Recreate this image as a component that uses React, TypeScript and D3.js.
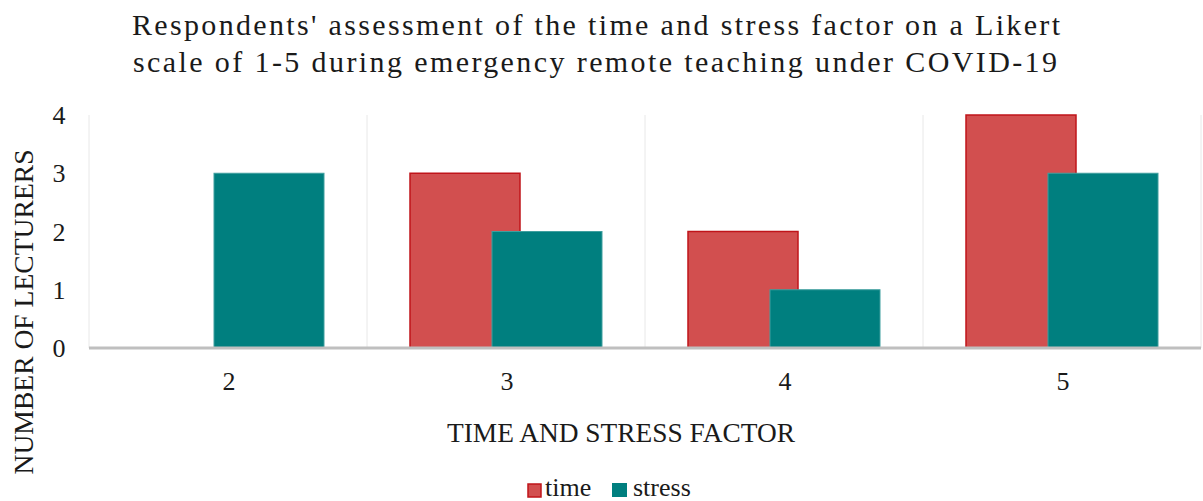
import * as d3 from "d3"

const categories = ["2", "3", "4", "5"]
const timeValues = [0, 3, 2, 4]
const stressValues = [3, 2, 1, 3]
const yTicks = [0, 1, 2, 3, 4]

const W = 1203
const H = 501
const margin = { left: 89, right: 2, top: 115, bottom: 153 }
const serif = { fontFamily: "'Liberation Serif', 'Times New Roman', serif" }

export default function App() {
  const innerW = W - margin.left - margin.right
  const innerH = H - margin.top - margin.bottom

  const x = d3.scaleBand().domain(categories).range([0, innerW])
  const y = d3.scaleLinear().domain([0, 4]).range([innerH, 0])

  // overlapping bar pair, like the office chart
  const barW = 110
  const offset = 82
  const groupW = barW + offset

  return (
    <svg width={W} height={H} style={{ position: "absolute", left: 0, top: 0, background: "#fff", ...serif }}>
      <g fill="#1a1a1a">
        <text x={132} y={35} fontSize={30} textLength={928} lengthAdjust="spacing">
          Respondents' assessment of the time and stress factor on a Likert
        </text>
        <text x={133} y={72} fontSize={30} textLength={924} lengthAdjust="spacing">
          scale of 1-5 during emergency remote teaching under COVID-19
        </text>
      </g>

      <g transform={`translate(${margin.left},${margin.top})`}>
        {categories.map(c => (
          <line key={"g" + c} x1={x(c)!} x2={x(c)!} y1={0} y2={innerH} stroke="#e8e8e8" strokeWidth={1} />
        ))}
        <line x1={innerW} x2={innerW} y1={0} y2={innerH} stroke="#e8e8e8" strokeWidth={1} />

        {categories.map((c, i) => {
          const start = x(c)! + (x.bandwidth() - groupW) / 2
          return (
            <g key={c}>
              {timeValues[i] > 0 && (
                <rect
                  x={start}
                  y={y(timeValues[i])}
                  width={barW}
                  height={innerH - y(timeValues[i])}
                  fill="#d24f4f"
                  stroke="#c0141a"
                  strokeWidth={1.5}
                />
              )}
              {stressValues[i] > 0 && (
                <rect
                  x={start + offset}
                  y={y(stressValues[i])}
                  width={barW}
                  height={innerH - y(stressValues[i])}
                  fill="#007f7f"
                  stroke="#3f9f9f"
                  strokeWidth={1}
                />
              )}
            </g>
          )
        })}

        <line x1={0} x2={innerW} y1={innerH} y2={innerH} stroke="#bfbfbf" strokeWidth={3} />

        {yTicks.map(t => (
          <text key={t} x={-30} y={y(t) + 9} textAnchor="middle" fontSize={26} fill="#1a1a1a">
            {t}
          </text>
        ))}

        {categories.map(c => (
          <text key={"l" + c} x={x(c)! + x.bandwidth() / 2 + 1} y={innerH + 42} textAnchor="middle" fontSize={26} fill="#1a1a1a">
            {c}
          </text>
        ))}
      </g>

      <text
        transform={`translate(33,312) rotate(-90)`}
        textAnchor="middle"
        fontSize={27}
        fill="#1a1a1a"
        textLength={325}
        lengthAdjust="spacingAndGlyphs"
      >
        NUMBER OF LECTURERS
      </text>

      <text x={447} y={442} fontSize={27} fill="#1a1a1a" textLength={348} lengthAdjust="spacingAndGlyphs">
        TIME AND STRESS FACTOR
      </text>

      <g>
        <rect x={528} y={484} width={13} height={13} fill="#d24f4f" stroke="#c0141a" strokeWidth={1.5} />
        <text x={545} y={496} fontSize={26} fill="#1a1a1a">time</text>
        <rect x={612} y={483} width={15} height={14} fill="#007f7f" />
        <text x={633} y={496} fontSize={26} fill="#1a1a1a">stress</text>
      </g>
    </svg>
  )
}
